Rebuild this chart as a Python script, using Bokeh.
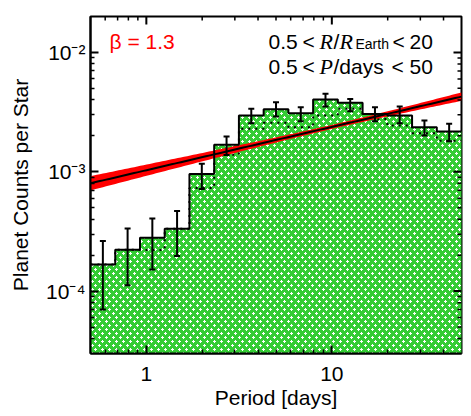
import base64
import struct
import zlib

import numpy as np
from bokeh.core.properties import value
from bokeh.embed import file_html
from bokeh.models import (BasicTickFormatter, ColumnDataSource, FixedTicker,
                          ImageURLTexture, TeeHead, Whisker)
from bokeh.plotting import figure
from bokeh.resources import INLINE

# ---------------- data ----------------
period_edges = [0.5, 0.6797, 0.9240, 1.2561, 1.7075, 2.3212, 3.1554, 4.2895,
                5.8312, 7.9270, 10.776, 14.649, 19.914, 27.071, 36.801, 50.0]
counts = [1.67e-4, 2.22e-4, 2.80e-4, 3.33e-4, 9.57e-4, 1.68e-3, 2.96e-3, 3.34e-3,
          3.09e-3, 4.04e-3, 3.78e-3, 3.05e-3, 2.96e-3, 2.36e-3, 2.17e-3]
err_hi = [2.63e-4, 3.34e-4, 4.06e-4, 4.70e-4, 1.17e-3, 1.97e-3, 3.37e-3, 3.82e-3,
          3.47e-3, 4.50e-3, 4.08e-3, 3.47e-3, 3.52e-3, 2.69e-3, 2.52e-3]
err_lo = [7.0e-5, 1.12e-4, 1.52e-4, 1.97e-4, 7.16e-4, 1.38e-3, 2.55e-3, 2.90e-3,
          2.65e-3, 3.52e-3, 3.21e-3, 2.65e-3, 2.55e-3, 2.01e-3, 1.80e-3]
counts_raw = [1.67e-4, 2.22e-4, 2.21e-4, 3.33e-4, 7.30e-4, 1.39e-3, 2.29e-3, 2.57e-3,
              2.36e-3, 2.96e-3, 3.37e-3, 2.77e-3, 2.44e-3, 2.10e-3, 1.82e-3]
fit_norm = 1.03e-3      # value of the power-law fit at P = 1 day
fit_slope = 0.363       # slope in log-log
fit_band_min = 0.017    # dex, narrowest half-width of fit uncertainty
fit_band_slope = 0.044  # dex per decade away from pivot
fit_pivot = 10.0        # days

x_ticks = [1, 10]
x_tick_labels = ["1", "10"]
x_minor = [0.6, 0.7, 0.8, 0.9, 2, 3, 4, 5, 6, 7, 8, 9, 20, 30, 40]
y_ticks = [1e-4, 1e-3, 1e-2]
y_tick_labels = ["10\u207b\u2074", "10\u207b\u00b3", "10\u207b\u00b2"]
y_minor = [4e-5, 5e-5, 6e-5, 7e-5, 8e-5, 9e-5,
           2e-4, 3e-4, 4e-4, 5e-4, 6e-4, 7e-4, 8e-4, 9e-4,
           2e-3, 3e-3, 4e-3, 5e-3, 6e-3, 7e-3, 8e-3, 9e-3]

X_MIN, X_MAX = 0.5, 50.0
Y_MIN, Y_MAX = 3e-5, 2e-2

# ---------------- hatch texture (green with white plus signs) ----------------
GREEN = (52, 204, 52)


def make_png(w, h, pix):
    raw = b"".join(b"\x00" + bytes(row) for row in pix)

    def chunk(t, d):
        return struct.pack(">I", len(d)) + t + d + struct.pack(">I", zlib.crc32(t + d) & 0xffffffff)

    return (b"\x89PNG\r\n\x1a\n" + chunk(b"IHDR", struct.pack(">IIBBBBB", w, h, 8, 2, 0, 0, 0))
            + chunk(b"IDAT", zlib.compress(raw)) + chunk(b"IEND", b""))


TW, TH = 7, 8
tile = [[GREEN for _ in range(TW)] for _ in range(TH)]
for cx, cy in [(1, 1), (4, 5)]:
    for ddx, ddy in [(0, 0), (1, 0), (-1, 0), (0, 1), (0, -1)]:
        tile[(cy + ddy) % TH][(cx + ddx) % TW] = (255, 255, 255)
pix = [[c for px in row for c in px] for row in tile]
tex_url = "data:image/png;base64," + base64.b64encode(make_png(TW, TH, pix)).decode()
texture = ImageURLTexture(url=tex_url, repetition="repeat")

# ---------------- figure ----------------
p = figure(x_axis_type="log", y_axis_type="log",
           x_range=(X_MIN, X_MAX), y_range=(Y_MIN, Y_MAX),
           width=469, height=414,
           min_border_left=90, min_border_right=8, min_border_top=16, min_border_bottom=61,
           output_backend="svg", toolbar_location=None,
           background_fill_color="white", border_fill_color="white")
p.grid.visible = False
p.outline_line_color = "black"
p.outline_line_width = 2

# histogram fill + outlines
sx, sy, sy_raw = [], [], []
for i in range(len(counts)):
    sx += [period_edges[i], period_edges[i + 1]]
    sy += [counts[i], counts[i]]
    sy_raw += [counts_raw[i], counts_raw[i]]

p.patch(x=[period_edges[0]] + sx + [period_edges[-1]], y=[1e-7] + sy + [1e-7],
        fill_color="#34cc34", line_color=None,
        hatch_pattern="pluses", hatch_extra={"pluses": texture})

p.line(sx, sy_raw, line_color="black", line_width=2, line_dash="2 5")

# fit and uncertainty band
grid = np.logspace(np.log10(X_MIN), np.log10(X_MAX), 120)
fit = fit_norm * grid ** fit_slope
w = np.sqrt(fit_band_min ** 2 + (fit_band_slope * (np.log10(grid) - np.log10(fit_pivot))) ** 2)
p.varea(x=grid, y1=fit * 10 ** (-w), y2=fit * 10 ** w, fill_color="red")
p.line(grid, fit, line_color="black", line_width=2)

# histogram outline
p.line(sx, sy, line_color="black", line_width=2)

# error bars
centers = [np.sqrt(period_edges[i] * period_edges[i + 1]) for i in range(len(counts))]
src = ColumnDataSource(dict(base=centers, upper=err_hi, lower=err_lo))
p.add_layout(Whisker(base="base", upper="upper", lower="lower", source=src,
                     dimension="height", line_color="black", line_width=2, level="overlay",
                     upper_head=TeeHead(size=6, line_width=2, line_color="black"),
                     lower_head=TeeHead(size=6, line_width=2, line_color="black")))

# ---------------- axes ----------------
FONT = "Liberation Sans"


def style_axis(ax, ticks, minor, labels):
    ax.ticker = FixedTicker(ticks=ticks, minor_ticks=minor)
    ax.formatter = BasicTickFormatter()
    ax.axis_line_color = "black"
    ax.axis_line_width = 2
    ax.major_tick_in = 8
    ax.major_tick_out = 0
    ax.minor_tick_in = 4
    ax.minor_tick_out = 0
    ax.major_tick_line_width = 2
    ax.minor_tick_line_width = 1.5
    ax.major_tick_line_color = "black"
    ax.minor_tick_line_color = "black"
    ax.major_label_overrides = {t: l for t, l in zip(ticks, labels)}
    ax.major_label_text_font = FONT
    ax.major_label_text_font_size = "21px"
    ax.major_label_text_color = "black"
    ax.axis_label_text_font = FONT
    ax.axis_label_text_font_size = "21px"
    ax.axis_label_text_font_style = "normal"
    ax.axis_label_text_color = "black"


xb = p.xaxis[0]
style_axis(xb, x_ticks, x_minor, x_tick_labels)
xb.axis_label = "Period [days]"
xb.major_label_standoff = 13
xb.axis_label_standoff = 2

yl = p.yaxis[0]
style_axis(yl, y_ticks, y_minor, y_tick_labels)
yl.axis_label = "Planet Counts per Star"
yl.major_label_standoff = 5
yl.axis_label_standoff = 11

# mirrored inward ticks on the top and right edges of the frame
p.ray(x=x_ticks, y=[Y_MAX] * len(x_ticks), length=8, length_units="screen",
      angle=-np.pi / 2, line_color="black", line_width=2)
p.ray(x=x_minor, y=[Y_MAX] * len(x_minor), length=4, length_units="screen",
      angle=-np.pi / 2, line_color="black", line_width=1.5)
p.ray(x=[X_MAX] * len(y_ticks), y=y_ticks, length=8, length_units="screen",
      angle=np.pi, line_color="black", line_width=2)
p.ray(x=[X_MAX] * len(y_minor), y=y_minor, length=4, length_units="screen",
      angle=np.pi, line_color="black", line_width=1.5)


# ---------------- annotations ----------------
def put(txt, dx, dy, size, font=FONT, style="normal", color="black"):
    p.text(x=[X_MIN], y=[Y_MAX], text=[txt], x_offset=dx, y_offset=dy,
           text_font=value(font), text_font_size=size, text_font_style=style,
           text_color=color, text_baseline="alphabetic", text_align="left")


put("\u03b2 = 1.3", 19, 25, "21px", color="red")

put("0.5", 178, 25, "21px")
put("<", 212, 25, "21px")
put("R", 229, 25, "22px", font="Liberation Serif", style="italic")
put("/", 243, 25, "21px")
put("R", 249, 25, "22px", font="Liberation Serif", style="italic")
put("Earth", 265, 27, "14px")
put("<", 302, 25, "21px")
put("20", 319, 25, "21px")

put("0.5", 178, 50, "21px")
put("<", 212, 50, "21px")
put("P", 229, 50, "22px", font="Liberation Serif", style="italic")
put("/days", 243, 50, "21px")
put("<", 301, 50, "21px")
put("50", 319, 50, "21px")

open("out.html", "w").write(file_html(p, INLINE))
